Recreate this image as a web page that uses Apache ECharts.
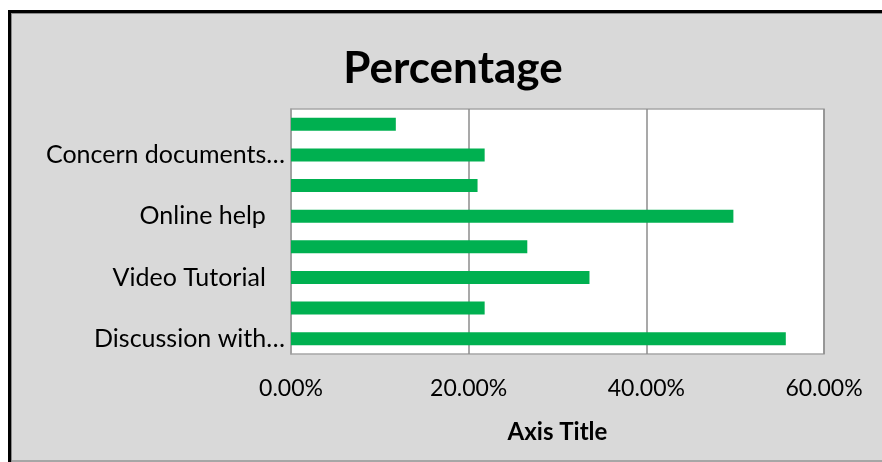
<!DOCTYPE html>
<html>
<head>
<meta charset="utf-8">
<script src="https://cdn.jsdelivr.net/npm/echarts@6/dist/echarts.min.js"></script>
<style>
  html, body { margin: 0; padding: 0; background: #ffffff; }
  #chart { width: 882px; height: 462px; }
</style>
</head>
<body>
<div id="chart"></div>
<script>
// Categories listed bottom-to-top; only every other one gets a visible label.
const categories = [
  'Discussion with\u2026',
  'Option 2',
  'Video Tutorial   ',
  'Option 4',
  'Online help   ',
  'Option 6',
  'Concern documents\u2026',
  'Option 8'
];
// Share of respondents, in percent.
const percentages = [55.7, 21.8, 33.6, 26.6, 49.8, 21.0, 21.8, 11.8];
const tickValues = [0, 20, 40, 60];

const chart = echarts.init(document.getElementById('chart'), null, { renderer: 'canvas' });

const FONT = 'Lato, "Open Sans", sans-serif';

chart.setOption({
  backgroundColor: '#ffffff',
  animation: false,
  graphic: [
    // frame: black top/left edge, thin grey inner line, grey panel
    { type: 'rect', silent: true, z: -10, shape: { x: 8, y: 10, width: 874, height: 452 }, style: { fill: '#000000' } },
    { type: 'rect', silent: true, z: -9, shape: { x: 11, y: 13, width: 871, height: 449 }, style: { fill: '#8a8a8a' } },
    { type: 'rect', silent: true, z: -8, shape: { x: 12, y: 14, width: 870, height: 446 }, style: { fill: '#d9d9d9' } },
    { type: 'rect', silent: true, z: -7, shape: { x: 12, y: 460, width: 870, height: 2 }, style: { fill: '#a6a6a6' } }
  ],
  title: {
    text: 'Percentage',
    left: 448,
    textAlign: 'center',
    top: 42,
    textStyle: { fontFamily: FONT, fontWeight: 'bold', fontSize: 44, color: '#000000' }
  },
  grid: {
    left: 291,
    right: 58,
    top: 109,
    bottom: 108,
    show: true,
    backgroundColor: '#ffffff',
    borderColor: '#a6a6a6',
    borderWidth: 1.5
  },
  xAxis: {
    type: 'value',
    min: 0,
    max: 60,
    interval: 20,
    name: 'Axis Title',
    nameLocation: 'middle',
    nameGap: 66,
    nameTextStyle: { fontFamily: FONT, fontWeight: 'bold', fontSize: 24, color: '#000000' },
    axisLine: { show: false },
    axisTick: { show: false },
    axisLabel: {
      margin: 23,
      fontFamily: FONT,
      fontSize: 23,
      color: '#000000',
      formatter: function (v) {
        return tickValues.indexOf(v) >= 0 ? v.toFixed(2) + '%' : '';
      }
    },
    splitLine: { show: true, lineStyle: { color: '#8c8c8c', width: 1.5 } }
  },
  yAxis: {
    type: 'category',
    data: categories,
    axisLine: { show: true, lineStyle: { color: '#a6a6a6', width: 1.5 } },
    axisTick: { show: false },
    axisLabel: {
      interval: 1,
      margin: 6,
      fontFamily: FONT,
      fontSize: 25,
      color: '#000000'
    }
  },
  series: [{
    type: 'bar',
    data: percentages,
    barWidth: 13,
    itemStyle: { color: '#00b050' }
  }]
});
</script>
</body>
</html>
